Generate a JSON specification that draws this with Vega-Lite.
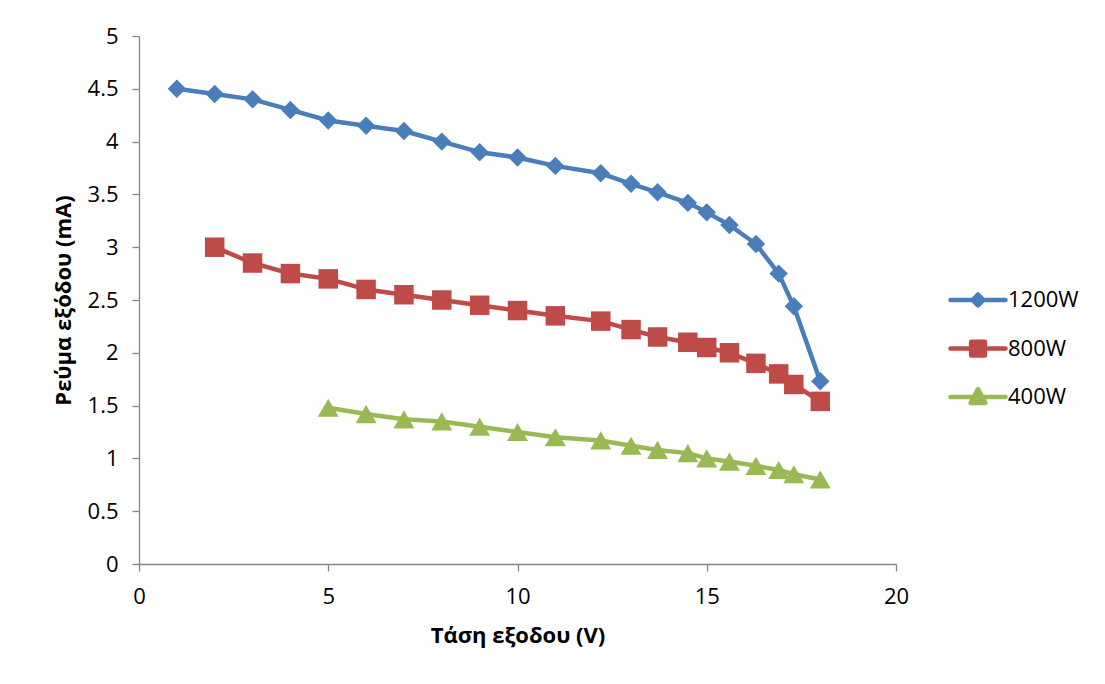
{
  "$schema": "https://vega.github.io/schema/vega-lite/v6.json",
  "width": 757,
  "height": 528,
  "autosize": "none",
  "padding": {"left": 139, "top": 36, "right": 209, "bottom": 120},
  "background": "white",
  "data": {
    "values": [
      {"s": "1200W", "v": 1, "i": 4.5},
      {"s": "1200W", "v": 2, "i": 4.45},
      {"s": "1200W", "v": 3, "i": 4.4},
      {"s": "1200W", "v": 4, "i": 4.3},
      {"s": "1200W", "v": 5, "i": 4.2},
      {"s": "1200W", "v": 6, "i": 4.15},
      {"s": "1200W", "v": 7, "i": 4.1},
      {"s": "1200W", "v": 8, "i": 4.0},
      {"s": "1200W", "v": 9, "i": 3.9},
      {"s": "1200W", "v": 10, "i": 3.85},
      {"s": "1200W", "v": 11, "i": 3.77},
      {"s": "1200W", "v": 12.2, "i": 3.7},
      {"s": "1200W", "v": 13, "i": 3.6},
      {"s": "1200W", "v": 13.7, "i": 3.52},
      {"s": "1200W", "v": 14.5, "i": 3.42},
      {"s": "1200W", "v": 15, "i": 3.33},
      {"s": "1200W", "v": 15.6, "i": 3.21},
      {"s": "1200W", "v": 16.3, "i": 3.03},
      {"s": "1200W", "v": 16.9, "i": 2.75},
      {"s": "1200W", "v": 17.3, "i": 2.44},
      {"s": "1200W", "v": 18, "i": 1.73},
      {"s": "800W", "v": 2, "i": 3.0},
      {"s": "800W", "v": 3, "i": 2.85},
      {"s": "800W", "v": 4, "i": 2.75},
      {"s": "800W", "v": 5, "i": 2.7},
      {"s": "800W", "v": 6, "i": 2.6},
      {"s": "800W", "v": 7, "i": 2.55},
      {"s": "800W", "v": 8, "i": 2.5},
      {"s": "800W", "v": 9, "i": 2.45},
      {"s": "800W", "v": 10, "i": 2.4},
      {"s": "800W", "v": 11, "i": 2.35},
      {"s": "800W", "v": 12.2, "i": 2.3},
      {"s": "800W", "v": 13, "i": 2.22},
      {"s": "800W", "v": 13.7, "i": 2.15},
      {"s": "800W", "v": 14.5, "i": 2.1},
      {"s": "800W", "v": 15, "i": 2.05},
      {"s": "800W", "v": 15.6, "i": 2.0},
      {"s": "800W", "v": 16.3, "i": 1.9},
      {"s": "800W", "v": 16.9, "i": 1.8},
      {"s": "800W", "v": 17.3, "i": 1.7},
      {"s": "800W", "v": 18, "i": 1.54},
      {"s": "400W", "v": 5, "i": 1.48},
      {"s": "400W", "v": 6, "i": 1.42},
      {"s": "400W", "v": 7, "i": 1.37},
      {"s": "400W", "v": 8, "i": 1.35},
      {"s": "400W", "v": 9, "i": 1.3},
      {"s": "400W", "v": 10, "i": 1.25},
      {"s": "400W", "v": 11, "i": 1.2},
      {"s": "400W", "v": 12.2, "i": 1.17},
      {"s": "400W", "v": 13, "i": 1.12},
      {"s": "400W", "v": 13.7, "i": 1.08},
      {"s": "400W", "v": 14.5, "i": 1.05},
      {"s": "400W", "v": 15, "i": 1.0},
      {"s": "400W", "v": 15.6, "i": 0.97},
      {"s": "400W", "v": 16.3, "i": 0.93},
      {"s": "400W", "v": 16.9, "i": 0.89},
      {"s": "400W", "v": 17.3, "i": 0.85},
      {"s": "400W", "v": 18, "i": 0.8}
    ]
  },
  "encoding": {
    "x": {
      "field": "v", "type": "quantitative",
      "scale": {"domain": [0, 20], "nice": false, "zero": false},
      "axis": {"values": [0, 5, 10, 15, 20], "format": "~g", "labelFlush": false, "title": "Τάση εξοδου (V)", "labelPadding": 15, "titlePadding": 18}
    },
    "y": {
      "field": "i", "type": "quantitative",
      "scale": {"domain": [0, 5], "nice": false},
      "axis": {"values": [0, 0.5, 1, 1.5, 2, 2.5, 3, 3.5, 4, 4.5, 5], "format": "~g", "labelFlush": false, "title": "Ρεύμα εξόδου (mA)", "labelPadding": 14, "titlePadding": 12}
    },
    "color": {
      "field": "s", "type": "nominal",
      "scale": {"domain": ["1200W", "800W", "400W"], "range": ["#4A7EBB", "#BE4B48", "#98B954"]},
      "legend": {
        "title": null,
        "orient": "none",
        "legendX": 809,
        "legendY": 234,
        "padding": 0,
        "symbolSize": 3025,
        "symbolStrokeWidth": 4.5,
        "rowPadding": 7.5,
        "labelOffset": 0,
        "labelFont": "Open Sans",
        "labelFontSize": 22,
        "labelColor": "#000000",
        "encode": {
          "symbols": {
            "update": {
              "shape": {"signal": "datum.value === '1200W' ? 'M-1,0H1M0,-0.2L0.2,0L0,0.2L-0.2,0Z' : datum.value === '800W' ? 'M-1,0H1M-0.25,-0.25H0.25V0.25H-0.25Z' : 'M-1,0H1M0,-0.29L0.27,0.22L-0.27,0.22Z'"},
              "stroke": {"signal": "scale('color', datum.value)"},
              "fill": {"signal": "scale('color', datum.value)"},
              "size": {"value": 3025},
              "strokeWidth": {"value": 4.5},
              "strokeCap": {"value": "round"},
              "strokeJoin": {"value": "round"},
              "opacity": {"value": 1}
            }
          }
        }
      }
    }
  },
  "layer": [
    {
      "mark": {"type": "line", "strokeWidth": 4.5, "strokeJoin": "round"}
    },
    {
      "transform": [{"filter": "datum.s === '1200W'"}],
      "mark": {"type": "point", "filled": true, "opacity": 1, "shape": "diamond", "size": 340}
    },
    {
      "transform": [{"filter": "datum.s === '800W'"}],
      "mark": {"type": "point", "filled": true, "opacity": 1, "shape": "square", "size": 380}
    },
    {
      "transform": [{"filter": "datum.s === '400W'"}],
      "mark": {"type": "point", "filled": true, "opacity": 1, "shape": "triangle-up", "size": 440}
    }
  ],
  "config": {
    "view": {"stroke": null},
    "font": "Open Sans",
    "axis": {
      "grid": false,
      "domainColor": "#868686",
      "domainWidth": 1.3,
      "tickColor": "#868686",
      "tickWidth": 1.3,
      "tickSize": 7,
      "labelFont": "Open Sans",
      "labelFontSize": 22,
      "labelColor": "#000000",
      "titleFont": "Open Sans",
      "titleFontSize": 22,
      "titleFontWeight": "bold",
      "titleColor": "#000000"
    }
  }
}
